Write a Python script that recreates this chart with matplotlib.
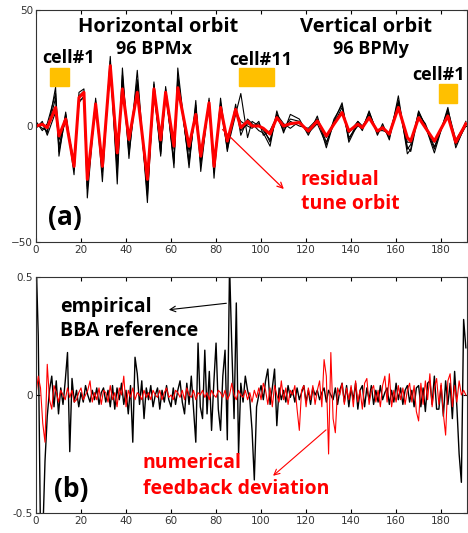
import numpy as np
import matplotlib.pyplot as plt

# ---- panel (a): orbit traces, vertices ----
top_x = [0, 2.8, 5, 8.7, 10.2, 13.2, 16.9, 19.1, 21.3, 22.8,
         26.5, 29.5, 33, 36.1, 38.4, 41.3, 45, 49.5, 52.4, 55.4,
         57.6, 61.3, 63, 68, 71, 73.2, 76.9, 79.1, 82, 85,
         88.7, 91, 94, 96, 99, 101, 104, 107, 110, 113,
         117, 121, 125, 129, 132.4, 136, 139, 143, 145, 148,
         151.7, 154, 157, 161, 165, 166.5, 170, 173, 177, 183,
         186.5, 191]

tune_orbit = [0, 0.7, -0.7, 8, -4.3, 3, -17.4, 12.3, 14.5, -23,
              9.5, -17.4, 26, -11.6, 16, -5.8, 14.5, -23, 16, -6,
              14.5, -8.7, 16.5, -8.7, 5, -13, 10, -17.4, 8, -6.5,
              7.2, -0.7, 2, 0, 0, -1, -3.5, 3.6, 0, 1,
              1.5, -2.2, 2.2, -4.3, 0.8, 5.8, -2.2, 0.8, -0.7, 3.6,
              -2.2, -0.7, -3.5, 8, -5, -6.5, 3.6, -0.7, -6.5, 4.3,
              -7, 1]

orbit_1 = [0, 1, -3, 16.7, -13, 6, -21, 14.5, 16, -31,
           12, -24, 30, -25, 25, -14, 24, -33, 19, -13,
           17, -18, 25, -18, 11, -19.6, 12, -22.5, 12, -11,
           9.4, -4, 3, 1, -2, -3, -8.7, 6.5, -3, 5,
           3, -4, 4.3, -9.4, 2, 10, -7, 1, -2, 6.5,
           -4, 1, -6, 13, -12, -10, 6.5, 0, -11.6, 8,
           -9.4, 1]
orbit_2 = [1, -1, -2, 12, -9, 5, -19, 13, 15, -27,
           11, -20, 28, -18, 22, -10, 20, -30, 18, -11,
           16, -15, 22, -16, 9, -17, 11, -20, 10, -9,
           8, -2, 1, 0, 1, -2, -6, 5, -1, 3,
           2, -3, 3, -7, 1, 8, -5, 0, -1, 5,
           -3, -1, -4, 11, -9, -11, 5, 1, -9, 6,
           -8, 0]
orbit_3 = [-1, 2, -4, 6, -6, 2, -15, 10, 13, -22,
           8, -16, 24, -13, 17, -6, 15, -25, 14, -8,
           13, -10, 18, -11, 6, -12, 9, -15, 7, -8,
           6, 2, 0, -1, 2, -4, -2, 4, -2, 2,
           0, -1, 3, -5, 2, 6, -3, 2, 0, 4,
           -2, -2, -3, 9, -7, -7, 4, -1, -7, 5,
           -8, 2]
orbit_4 = [2, -2, 1, 14, -11, 4, -17, 11, 12, -26,
           10, -18, 25, -20, 20, -12, 18, -28, 15, -12,
           15, -16, 20, -15, 8, -15, 10, -18, 9, -10,
           5, 14, -5, 2, 0, -1, -7, 5, 1, -1,
           2, -3, 1, -8, 3, 9, -6, 2, -1, 6,
           -3, 0, -5, 10, -10, -8, 6, 0, -10, 7,
           -6, 1]

# ---- panel (b): one value per BPM index 0..191 ----
bba_ref = [0.6, 0.25, -0.6, -0.6, -0.28, -0.09, 0.02, 0.08, -0.05, 0.06,
           -0.08, 0.03, -0.04, 0.06, 0.18, -0.24, 0.07, -0.03, 0.02, -0.05,
           0.01, -0.03, 0.04, 0.0, -0.03, 0.02, -0.02, 0.03, -0.04, 0.01,
           0.03, -0.03, 0.02, -0.05, 0.04, -0.06, 0.03, -0.02, 0.05, -0.04,
           0.02, -0.08, 0.04, -0.2, 0.16, 0.09, -0.04, 0.06, -0.1, 0.03,
           -0.02, 0.04, -0.05, 0.0, 0.03, -0.06, 0.02, -0.03, 0.04, -0.02,
           -0.05, 0.03, -0.04, 0.02, 0.06, -0.03, -0.08, 0.05, -0.04, 0.08,
           -0.06, -0.2, 0.22, -0.05, -0.1, 0.19, -0.08, 0.1, -0.15, 0.05,
           0.22, -0.06, -0.15, 0.08, 0.19, -0.19, 0.55, 0.2, -0.1, 0.39,
           -0.25, 0.05, -0.03, 0.08, 0.02, -0.02, -0.15, -0.36, -0.05, 0.0,
           0.04, -0.02, 0.06, 0.11, -0.04, 0.03, 0.11, -0.13, 0.03, -0.02,
           0.02, -0.03, 0.04, -0.01, 0.02, -0.03, 0.03, -0.02, 0.01, 0.04,
           -0.03, 0.02, -0.04, 0.03, 0.0, 0.02, -0.02, 0.01, 0.03, -0.03,
           0.02, 0.0, -0.02, 0.03, -0.04, 0.02, 0.05, -0.03, 0.04, -0.05,
           0.03, -0.02, 0.05, -0.06, 0.02, 0.04, -0.05, 0.03, -0.02, 0.04,
           -0.04, 0.02, -0.03, 0.04, -0.02, 0.01, 0.03, -0.04, 0.02, -0.03,
           0.05, -0.02, 0.03, -0.04, 0.02, 0.04, -0.03, 0.02, -0.05, 0.03,
           0.04, -0.05, 0.03, -0.07, 0.05, 0.06, -0.04, 0.08, -0.06, -0.06,
           0.04, -0.09, 0.06, -0.04, 0.05, -0.1, 0.1, -0.05, -0.25, -0.37,
           0.32, 0.2]

fb_dev = [0.0, 0.08, 0.03, -0.12, -0.2, 0.13, -0.02, -0.06, 0.04, 0.01,
          -0.03, 0.02, 0.0, -0.02, 0.03, -0.01, 0.02, -0.03, -0.02, 0.01,
          0.03, -0.02, 0.0, 0.02, 0.06, -0.03, 0.01, -0.02, 0.03, -0.04,
          0.02, 0.01, -0.03, 0.04, -0.02, 0.01, -0.05, 0.03, 0.0, 0.08,
          -0.05, 0.02, -0.01, 0.03, -0.02, 0.01, 0.0, -0.02, 0.02, -0.01,
          0.01, -0.02, 0.02, 0.0, -0.01, 0.02, -0.02, 0.01, 0.03, -0.01,
          0.0, -0.02, 0.02, 0.01, -0.01, 0.02, -0.02, 0.03, 0.0, -0.01,
          0.02, -0.02, 0.01, 0.0, 0.02, -0.01, 0.01, -0.02, 0.02, 0.0,
          -0.01, 0.02, 0.01, -0.01, 0.02, -0.02, 0.0, 0.05, 0.0, -0.02,
          0.02, 0.0, -0.01, 0.02, -0.02, 0.01, -0.03, 0.02, -0.01, 0.03,
          -0.02, 0.05, 0.02, -0.04, 0.03, -0.05, 0.04, 0.0, -0.03, 0.06,
          -0.02, 0.03, -0.04, 0.02, 0.0, 0.04, -0.06, -0.15, 0.02, 0.04,
          -0.05, 0.03, -0.02, 0.04, -0.04, 0.02, 0.06, -0.05, 0.15, 0.08,
          -0.25, 0.18, -0.1, -0.16, 0.03, 0.0, 0.05, -0.04, 0.03, -0.02,
          0.04, -0.05, 0.06, -0.03, 0.02, -0.06, 0.05, 0.07, -0.04, 0.02,
          0.04, -0.03, 0.02, -0.05, 0.04, 0.08, -0.03, 0.09, -0.05, 0.02,
          -0.03, 0.04, -0.02, 0.03, -0.04, 0.02, 0.05, -0.03, 0.04, -0.07,
          -0.11, 0.05, -0.04, 0.06, -0.02, 0.09, -0.05, 0.03, 0.07, -0.04,
          0.05, -0.08, -0.17, 0.06, 0.09, -0.05, 0.04, -0.03, 0.06, 0.0,
          0.02, 0.0]

xticks = [0, 20, 40, 60, 80, 100, 120, 140, 160, 180]
orange = '#FFC000'
W, H = 468, 533

fig = plt.figure(figsize=(W / 100, H / 100), dpi=100)
ax1 = fig.add_axes([36 / W, 1 - 242 / H, 431 / W, 232 / H])
ax2 = fig.add_axes([36 / W, 1 - 513 / H, 431 / W, 236 / H])

for ys in [orbit_1, orbit_2, orbit_3, orbit_4]:
    ax1.plot(top_x, ys, color='black', lw=0.8)
ax1.plot(top_x, tune_orbit, color='red', lw=2.2)
ax1.set_ylim(-50, 50)
ax1.set_yticks([-50, 0, 50])

bpm = np.arange(len(bba_ref))
ax2.plot(bpm, bba_ref, color='black', lw=1.0)
ax2.plot(bpm, fb_dev, color='red', lw=0.8)
ax2.set_ylim(-0.5, 0.5)
ax2.set_yticks([-0.5, 0, 0.5])
ax2.set_yticklabels(['-0.5', '0', '0.5'])

for ax in (ax1, ax2):
    ax.set_xlim(0, 191.5)
    ax.set_xticks(xticks)
    ax.tick_params(direction='in', top=True, right=True, length=3,
                   labelsize=7.5, labelcolor='#333333', pad=2)
    for s in ax.spines.values():
        s.set_linewidth(0.8)
        s.set_color('#333333')

bold = dict(fontweight='bold', family=['Open Sans', 'DejaVu Sans'])

def ftext(px, py, s, **kw):
    fig.text(px / W, 1 - py / H, s, **kw)

# panel (a) labels
ftext(158, 27, 'Horizontal orbit', ha='center', va='center', fontsize=14.5, **bold)
ftext(154, 49, '96 BPMx', ha='center', va='center', fontsize=13, **bold)
ftext(69, 58, 'cell#1', ha='center', va='center', fontsize=13, **bold)
ftext(261, 60, 'cell#11', ha='center', va='center', fontsize=13, **bold)
ftext(366, 27, 'Vertical orbit', ha='center', va='center', fontsize=14.5, **bold)
ftext(371, 49, '96 BPMy', ha='center', va='center', fontsize=13, **bold)
ftext(439, 75, 'cell#1', ha='center', va='center', fontsize=13, **bold)
ftext(65, 218, '(a)', ha='center', va='center', fontsize=19, **bold)
ftext(301, 180, 'residual', ha='left', va='center', fontsize=14, color='red', **bold)
ftext(301, 204, 'tune orbit', ha='left', va='center', fontsize=14, color='red', **bold)

for (x0, y0, w, h) in [(50, 68, 19, 18), (239, 68, 35, 18), (439, 84, 18, 19)]:
    fig.patches.append(plt.Rectangle((x0 / W, 1 - (y0 + h) / H), w / W, h / H,
                                     transform=fig.transFigure, color=orange))

ax1.annotate('', xy=(111, -28), xytext=(82, -0.7),
             arrowprops=dict(arrowstyle='->', color='red', lw=0.9))

# panel (b) labels
ftext(60, 307, 'empirical', ha='left', va='center', fontsize=14, **bold)
ftext(60, 331, 'BBA reference', ha='left', va='center', fontsize=14, **bold)
ftext(71, 490, '(b)', ha='center', va='center', fontsize=19, **bold)
ftext(143, 463, 'numerical', ha='left', va='center', fontsize=14, color='red', **bold)
ftext(143, 489, 'feedback deviation', ha='left', va='center', fontsize=14, color='red', **bold)

ax2.annotate('', xy=(57.8, 0.36), xytext=(85.8, 0.39),
             arrowprops=dict(arrowstyle='->', color='black', lw=0.8))
ax2.annotate('', xy=(104.4, -0.35), xytext=(129.8, -0.14),
             arrowprops=dict(arrowstyle='->', color='red', lw=0.8))

fig.savefig('out.png', dpi=100)
